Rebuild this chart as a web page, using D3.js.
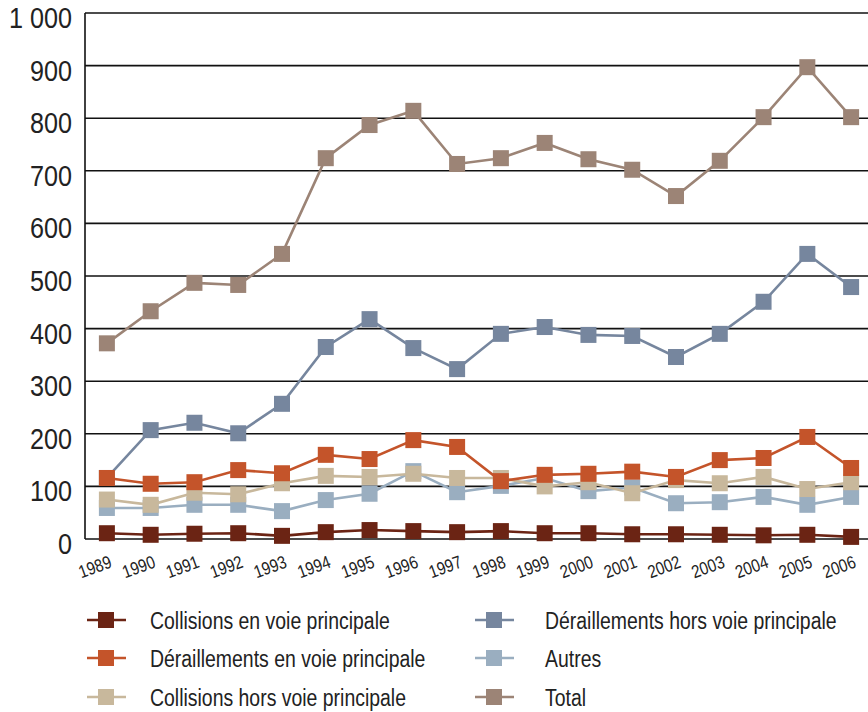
<!DOCTYPE html>
<html>
<head>
<meta charset="utf-8">
<script src="https://cdn.jsdelivr.net/npm/d3@7"></script>
<style>
  body { margin: 0; background: #fff; }
  svg text { font-family: "Liberation Sans", Arial, sans-serif; fill: #222; }
</style>
</head>
<body>
<div id="chart"></div>
<script>
const width = 868;
const height = 712;

const years = ["1989","1990","1991","1992","1993","1994","1995","1996","1997","1998",
               "1999","2000","2001","2002","2003","2004","2005","2006"];

const yTicks = [0, 100, 200, 300, 400, 500, 600, 700, 800, 900, 1000];

// values
const total          = [372, 433, 487, 483, 542, 724, 787, 814, 713, 724, 753, 722, 702, 652, 719, 802, 897, 802];
const derHorsVoie    = [116, 207, 221, 201, 257, 365, 418, 363, 323, 390, 403, 388, 386, 346, 390, 451, 542, 479];
const autres         = [59, 59, 65, 65, 53, 74, 86, 129, 89, 101, 116, 91, 98, 68, 70, 80, 65, 80];
const collHorsVoie   = [75, 65, 88, 85, 106, 120, 118, 124, 116, 116, 100, 108, 87, 112, 106, 118, 95, 108];
const derEnVoie      = [116, 105, 108, 131, 125, 160, 152, 188, 175, 110, 122, 124, 128, 118, 150, 154, 194, 135];
const collEnVoie     = [11, 8, 10, 11, 6, 13, 17, 15, 13, 15, 11, 11, 9, 9, 8, 7, 8, 4];

const seriesNames = ["Collisions en voie principale", "Déraillements en voie principale",
                     "Collisions hors voie principale", "Déraillements hors voie principale",
                     "Autres", "Total"];
const seriesColors = ["#6b2414", "#c4542a", "#c8b89c", "#76869e", "#9aaec0", "#9c8476"];
const seriesValues = [collEnVoie, derEnVoie, collHorsVoie, derHorsVoie, autres, total];

// drawing order (first drawn = bottom)
const drawOrder = [5, 3, 4, 2, 1, 0];

const plotLeft = 85, plotTop = 13, plotBottom = 539;
const squeeze = 0.84; // condensed look

const svg = d3.select("#chart").append("svg")
    .attr("width", width)
    .attr("height", height);

const x = d3.scalePoint().domain(years).range([plotLeft, 873]).padding(0.5);
const y = d3.scaleLinear().domain([0, 1000]).range([plotBottom, plotTop]);

// grid lines
svg.append("g").selectAll("line")
    .data(yTicks)
    .enter().append("line")
    .attr("x1", plotLeft)
    .attr("x2", width)
    .attr("y1", d => y(d))
    .attr("y2", d => y(d))
    .style("stroke", "#111")
    .style("stroke-width", 1.6);

// y axis line
svg.append("line")
    .attr("x1", plotLeft).attr("x2", plotLeft)
    .attr("y1", plotTop).attr("y2", plotBottom)
    .style("stroke", "#111")
    .style("stroke-width", 1.6);

// y labels
svg.append("g").selectAll("text")
    .data(yTicks)
    .enter().append("text")
    .attr("transform", d => `translate(72,${y(d) + 15}) scale(${squeeze},1)`)
    .attr("text-anchor", "end")
    .style("font-size", "30px")
    .text(d => d === 1000 ? "1 000" : d);

// x labels, tilted
svg.append("g").selectAll("text")
    .data(years)
    .enter().append("text")
    .attr("transform", d => `translate(${x(d) + 6},567) rotate(-20) scale(${squeeze},1)`)
    .attr("text-anchor", "end")
    .style("font-size", "18px")
    .text(d => d);

const line = d3.line()
    .x((d, i) => x(years[i]))
    .y(d => y(d));

const sq = 16;

drawOrder.forEach(k => {
    const g = svg.append("g");
    g.append("path")
        .datum(seriesValues[k])
        .attr("d", line)
        .style("fill", "none")
        .style("stroke", seriesColors[k])
        .style("stroke-width", 2.6);
    g.selectAll("rect")
        .data(seriesValues[k])
        .enter().append("rect")
        .attr("x", (d, i) => x(years[i]) - sq / 2)
        .attr("y", d => y(d) - sq / 2)
        .attr("width", sq)
        .attr("height", sq)
        .style("fill", seriesColors[k]);
});

// legend: marker centre, text start, row
const legendPos = [
    [106, 150, 620], [106, 150, 658], [106, 150, 697],
    [494, 545, 620], [494, 545, 658], [494, 545, 697]
];

const legend = svg.append("g").selectAll("g")
    .data(seriesNames)
    .enter().append("g");

legend.append("line")
    .attr("x1", (d, i) => legendPos[i][0] - 19)
    .attr("x2", (d, i) => legendPos[i][0] + 20)
    .attr("y1", (d, i) => legendPos[i][2])
    .attr("y2", (d, i) => legendPos[i][2])
    .style("stroke", (d, i) => seriesColors[i])
    .style("stroke-width", 2.6);

legend.append("rect")
    .attr("x", (d, i) => legendPos[i][0] - 8)
    .attr("y", (d, i) => legendPos[i][2] - 8)
    .attr("width", 16).attr("height", 16)
    .style("fill", (d, i) => seriesColors[i]);

legend.append("text")
    .attr("transform", (d, i) => `translate(${legendPos[i][1]},${legendPos[i][2] + 9}) scale(0.81,1)`)
    .style("font-size", "24px")
    .text(d => d);
</script>
</body>
</html>
